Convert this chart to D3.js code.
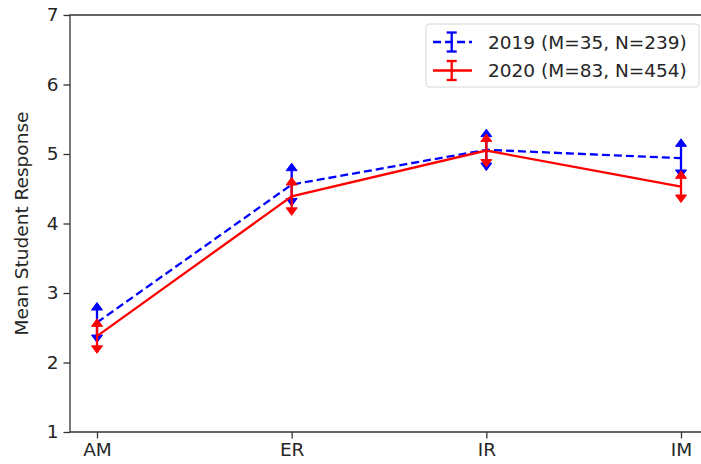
<!DOCTYPE html>
<html><head><meta charset="utf-8">
<script src="https://cdn.jsdelivr.net/npm/d3@7"></script>
<style>body{margin:0;background:#fff}svg{display:block}text{font-family:"DejaVu Sans",sans-serif;fill:#262626}</style>
</head><body><svg id="c" width="701" height="464"></svg>
<script>
const categories = ["AM","ER","IR","IM"];
const values2019 = [2.575, 4.56, 5.06, 4.94];
const errors2019 = [0.18, 0.2, 0.19, 0.17];
const values2020 = [2.38, 4.39, 5.05, 4.53];
const errors2020 = [0.14, 0.165, 0.13, 0.12];
const yTicks = [1,2,3,4,5,6,7];
const seriesLabels = ["2019 (M=35, N=239)", "2020 (M=83, N=454)"];

const FS = "18.5px";
const svg = d3.select("#c");
const L = 70, T = 15, B = 432, R = 701;
const x = d3.scaleLinear().domain([0,3]).range([97,681]);
const y = d3.scaleLinear().domain([1,7]).range([B,T]);
const axisColor = "#333";

// axes
const yAxis = d3.axisLeft(y).tickValues(yTicks).tickSize(6.5).tickPadding(5).tickFormat(d3.format("d"));
const gy = svg.append("g").attr("transform",`translate(${L},0)`).call(yAxis);
gy.select(".domain").remove();
gy.selectAll("line").attr("stroke",axisColor).attr("stroke-width",1.3);
gy.selectAll("text").style("font-size",FS).attr("fill","#262626");

const xAxis = d3.axisBottom(x).tickValues([0,1,2,3]).tickFormat(i=>categories[i]).tickSize(6.5).tickPadding(4);
const gx = svg.append("g").attr("transform",`translate(0,${B})`).call(xAxis);
gx.select(".domain").remove();
gx.selectAll("line").attr("stroke",axisColor).attr("stroke-width",1.3);
gx.selectAll("text").style("font-size",FS).attr("fill","#262626");

// spines
svg.append("path").attr("d",`M${R},${T}H${L}V${B}H${R}`).attr("fill","none").attr("stroke",axisColor).attr("stroke-width",1.3);

svg.append("text").attr("transform",`translate(28,${(T+B)/2}) rotate(-90)`).attr("text-anchor","middle").style("font-size",FS).text("Mean Student Response");

function drawSeries(vals, errs, color, dash){
  const g = svg.append("g");
  const line = d3.line().x((d,i)=>x(i)).y(d=>y(d));
  g.append("path").datum(vals).attr("d",line).attr("fill","none").attr("stroke",color).attr("stroke-width",2.3).attr("stroke-dasharray",dash);
  vals.forEach((v,i)=>{
    const cx = x(i), top = y(v+errs[i]), bot = y(v-errs[i]);
    g.append("line").attr("x1",cx).attr("x2",cx).attr("y1",top).attr("y2",bot).attr("stroke",color).attr("stroke-width",2.3);
    g.append("path").attr("d",`M${cx-5.5},${top}L${cx+5.5},${top}L${cx},${top-7.5}Z`).attr("fill",color).attr("stroke",color).attr("stroke-width",1);
    g.append("path").attr("d",`M${cx-5.5},${bot}L${cx+5.5},${bot}L${cx},${bot+7.5}Z`).attr("fill",color).attr("stroke",color).attr("stroke-width",1);
  });
}
drawSeries(values2019, errors2019, "#0000ff", "8,4");
drawSeries(values2020, errors2020, "#ff0000", null);

// legend
const lg = svg.append("g");
lg.append("rect").attr("x",426).attr("y",24).attr("width",273).attr("height",63).attr("rx",3).attr("fill","#fff").attr("fill-opacity",0.8).attr("stroke","#d6d6d6");
const rows = [{c:"#0000ff",d:"8,4",y:42},{c:"#ff0000",d:null,y:70.5}];
rows.forEach((r,i)=>{
  lg.append("line").attr("x1",433).attr("x2",472).attr("y1",r.y).attr("y2",r.y).attr("stroke",r.c).attr("stroke-width",2.3).attr("stroke-dasharray",r.d);
  lg.append("line").attr("x1",451.7).attr("x2",451.7).attr("y1",r.y-9.5).attr("y2",r.y+9.5).attr("stroke",r.c).attr("stroke-width",2.3);
  [r.y-9.5,r.y+9.5].forEach(yy=>lg.append("line").attr("x1",446.7).attr("x2",456.7).attr("y1",yy).attr("y2",yy).attr("stroke",r.c).attr("stroke-width",2.3));
  lg.append("text").attr("x",488).attr("y",r.y+6.5).style("font-size",FS).text(seriesLabels[i]);
});
</script></body></html>
